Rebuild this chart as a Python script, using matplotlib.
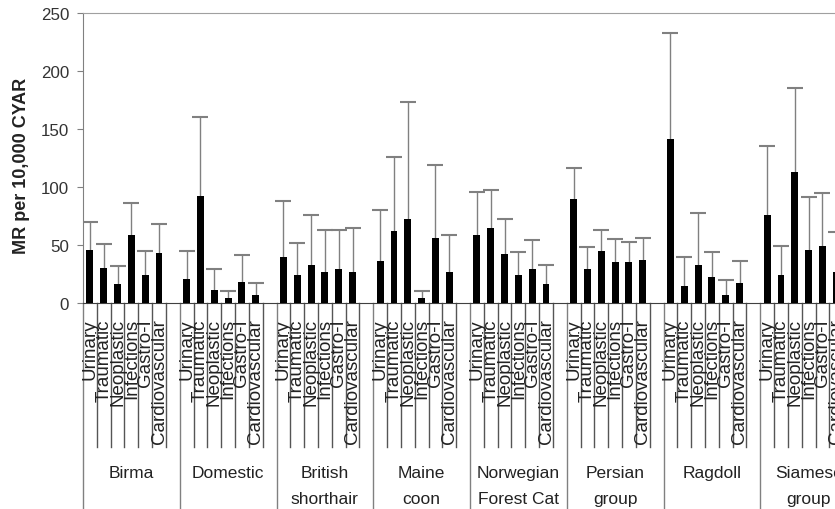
import numpy as np
import matplotlib.pyplot as plt
from matplotlib.transforms import blended_transform_factory

plt.rcParams['font.family'] = ['Liberation Sans', 'DejaVu Sans']

categories = ["Urinary", "Traumatic", "Neoplastic", "Infections", "Gastro-I", "Cardiovascular"]
breeds = ["Birma", "Domestic", "British\nshorthair", "Maine\ncoon", "Norwegian\nForest Cat",
          "Persian\ngroup", "Ragdoll", "Siamese\ngroup"]

# MR per 10,000 CYAR and upper limit, per breed
urinary = [46, 21, 40, 36, 59, 90, 141, 76]
urinary_hi = [70, 45, 88, 80, 96, 116, 233, 135]
traumatic = [30, 92, 24, 62, 65, 29, 15, 24]
traumatic_hi = [51, 160, 52, 126, 97, 48, 40, 49]
neoplastic = [16, 11, 33, 72, 42, 45, 33, 113]
neoplastic_hi = [32, 29, 76, 173, 72, 63, 78, 185]
infections = [59, 4, 27, 4, 24, 35, 22, 46]
infections_hi = [86, 10, 63, 10, 44, 55, 44, 91]
gastro = [24, 18, 29, 56, 29, 35, 7, 49]
gastro_hi = [45, 41, 63, 119, 54, 53, 20, 95]
cardio = [43, 7, 27, 27, 16, 37, 17, 27]
cardio_hi = [68, 17, 65, 59, 33, 56, 36, 61]

series = [urinary, traumatic, neoplastic, infections, gastro, cardio]
upper = [urinary_hi, traumatic_hi, neoplastic_hi, infections_hi, gastro_hi, cardio_hi]

slots = len(categories) + 1  # one empty slot between breeds

fig = plt.figure(figsize=(8.35, 5.10), dpi=100)
ax = fig.add_axes([83 / 835, 206 / 510, 774 / 835, 290 / 510])

for c, (vals, hi) in enumerate(zip(series, upper)):
    vals = np.array(vals, dtype=float)
    hi = np.array(hi, dtype=float)
    x = np.arange(len(breeds)) * slots + c + 0.5
    ax.bar(x, vals, width=0.5, color='black', zorder=3)
    eb = ax.errorbar(x, vals, yerr=[np.zeros_like(vals), hi - vals], fmt='none',
                     ecolor='#808080', elinewidth=1, capsize=6, capthick=1.5, zorder=2)
    for cap in eb[1]:
        cap.set_color('#404040')
        if np.allclose(cap.get_ydata(), vals):
            cap.set_visible(False)

ax.set_ylim(0, 250)
ax.set_yticks(range(0, 251, 50))
ax.set_xlim(0, len(breeds) * slots)
ax.set_xticks([])
ax.tick_params(axis='y', length=4, color='#808080', labelsize=12.2, labelcolor='#333333', pad=6)
ax.spines['left'].set_color('#808080')
ax.spines['top'].set_color('#a0a0a0')
ax.spines['right'].set_visible(False)
ax.spines['bottom'].set_color('#404040')

trans = blended_transform_factory(ax.transData, ax.transAxes)

# separators of the two-level category axis
for k in range(len(breeds) * slots + 1):
    if k % slots == 0:
        ax.plot([k, k], [0, -0.75], color='#808080', lw=1, transform=trans, clip_on=False)
    else:
        ax.plot([k, k], [0, -0.497], color='#555555', lw=1, transform=trans, clip_on=False)

for g, breed in enumerate(breeds):
    for c, cat in enumerate(categories):
        ax.text(g * slots + c + 0.5, -0.052, cat, rotation=90, ha='center', va='top',
                fontsize=13.5, color='#222222', transform=trans)
    for i, line in enumerate(breed.split("\n")):
        ax.text(g * slots + 3.5, -0.583 - 0.09 * i, line, ha='center', va='center',
                fontsize=12.5, color='#222222', transform=trans)

fig.text(22 / 835, 1 - 166 / 510, "MR per 10,000 CYAR", rotation=90, ha='center', va='center',
         fontsize=13, fontweight='bold', color='#222222')

fig.savefig('out.png', dpi=100)
